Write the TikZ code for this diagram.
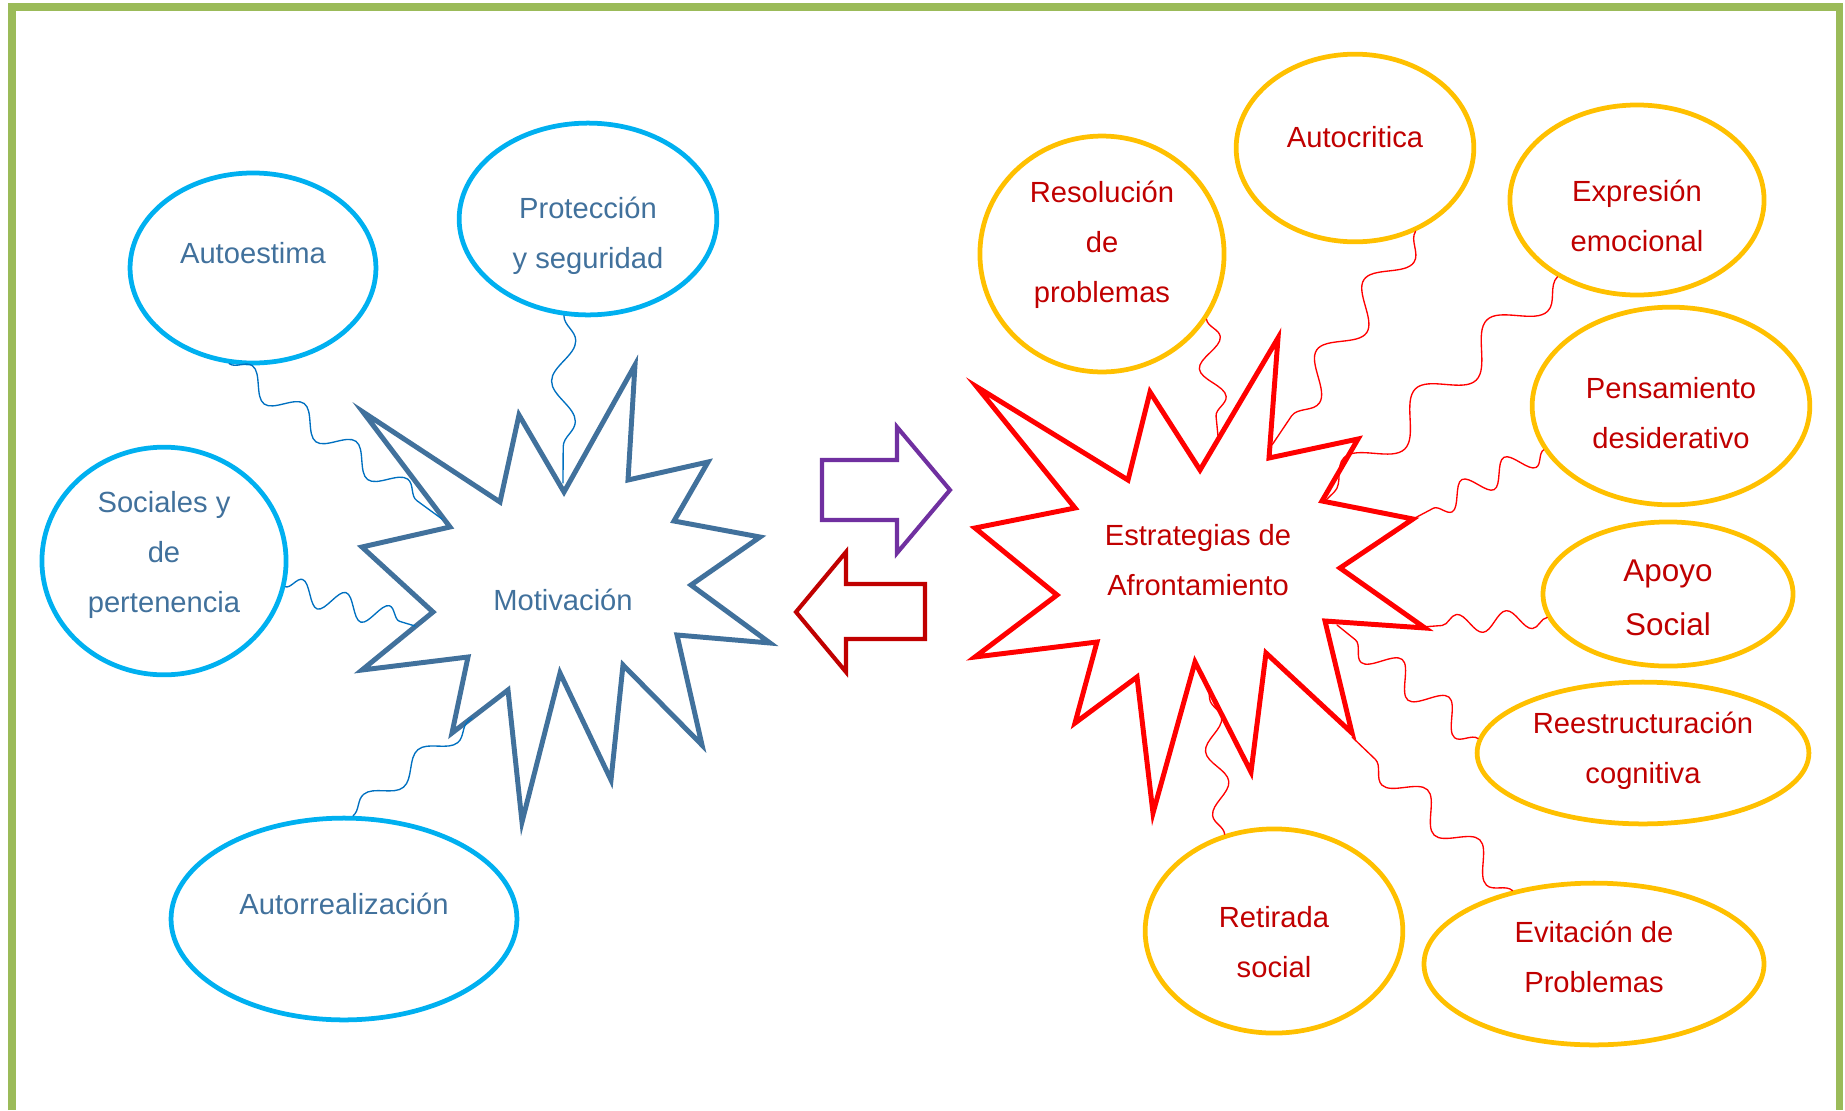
\documentclass[tikz,border=0pt]{standalone}
\usepackage{fontspec}
\setmainfont{Liberation Sans}
\usetikzlibrary{shapes.geometric}
\usetikzlibrary{decorations.pathmorphing}

\definecolor{framegreen}{HTML}{9BBB59}
\definecolor{skyring}{HTML}{00B0F0}
\definecolor{steel}{HTML}{41719C}
\definecolor{wireblue}{HTML}{0070C0}
\definecolor{goldring}{HTML}{FFC000}
\definecolor{darkred}{HTML}{C00000}
\definecolor{brightred}{HTML}{FF0000}
\definecolor{arrowviolet}{HTML}{7030A0}

\tikzset{
  bubble/.style={ellipse, line width=2.3pt, inner sep=0pt},
  need/.style={bubble, draw=skyring},
  coping/.style={bubble, draw=goldring},
  hubtext/.style={align=center, font=\fontsize{14.1}{24.2}\selectfont},
  needtext/.style={hubtext, text=steel},
  copingtext/.style={hubtext, text=darkred},
  wire/.style={decorate, line width=0.65pt},
}

\begin{document}
\begin{tikzpicture}[line cap=round,line join=round,x=0.017cm,y=-0.017cm]
\useasboundingbox (0,0) rectangle (1845,1110);
\draw [framegreen, line width=3.4pt, line cap=butt, line join=miter] (12,1110)--(12,7)--(1839,7)--(1839,1110);

% needs side
\draw [steel, line width=2.4pt, line join=miter] (363,412)--(500,502)--(519,415)--(564,492)--(635,365)--(628,480)--(708,462)--(674,521)--(760,537)--(691,585)--(770,643)--(677,635)--(702,745)--(623,665)--(611,780)--(560,673)--(522,822)--(508,690)--(452,733)--(468,657)--(362,670)--(433,612)--(362,547)--(450,527)--cycle;
\node [needtext] (motivacion) at (563,600) {Motivación};

\node [need, minimum width=4.18cm, minimum height=3.23cm, label={[needtext, yshift=7.3pt]center:Autoestima}] (autoestima) at (253,268) {};
\node [need, minimum width=4.38cm, minimum height=3.26cm, label={[needtext, yshift=-8.2pt]center:Protección\\y seguridad}] (proteccion) at (588,219) {};
\node [need, minimum width=4.15cm, minimum height=3.87cm, label={[needtext, yshift=2.9pt]center:Sociales y\\de\\pertenencia}] (sociales) at (164,561) {};
\node [need, minimum width=5.88cm, minimum height=3.43cm, label={[needtext, yshift=7.3pt]center:Autorrealización}] (autorreal) at (344,919) {};

\coordinate (mot-ae) at (442,519);
\coordinate (mot-so) at (415,626);
\coordinate (mot-pr) at (563,483);
\coordinate (mot-ar) at (472,718);

\draw [wire, wireblue, decoration={snake, amplitude=5.8pt, segment length=31pt}] (autoestima.256) -- (mot-ae);
\draw [wire, wireblue, decoration={snake, amplitude=5.8pt, segment length=22pt}] (sociales.348) -- (mot-so);
\draw [wire, wireblue, decoration={snake, amplitude=5.8pt, segment length=39pt}] (proteccion.256) -- (mot-pr);
\draw [wire, wireblue, decoration={snake, amplitude=4.8pt, segment length=34pt}] (autorreal.85) -- (mot-ar);

% arrows between both
\draw [arrowviolet, line width=2pt, line join=miter] (822,460)--(897,460)--(897,427)--(950,490)--(897,553)--(897,520)--(822,520)--cycle;
\draw [darkred, line width=2pt, line join=miter] (925,584)--(846,584)--(846,552)--(796,612)--(846,672)--(846,639)--(925,639)--cycle;

% coping side
\draw [brightred, line width=2.4pt, line join=miter] (977,387)--(1128,480)--(1150,392)--(1200,470)--(1278,338)--(1269,458)--(1358,439)--(1322,501)--(1413,519)--(1340,568)--(1425,628)--(1325,621)--(1352,733)--(1266,653)--(1251,772)--(1195,662)--(1153,813)--(1137,677)--(1075,723)--(1097,642)--(975,657)--(1057,595)--(975,528)--(1075,508)--cycle;
\node [copingtext] (estrategias) at (1198,560) {Estrategias de\\Afrontamiento};

\node [coping, minimum width=4.15cm, minimum height=4.01cm, label={[copingtext, yshift=4.4pt]center:Resolución\\de\\problemas}] (resolucion) at (1102,254) {};
\node [coping, minimum width=4.04cm, minimum height=3.19cm, label={[copingtext, yshift=5.3pt]center:Autocritica}] (autocritica) at (1355,148) {};
\node [coping, minimum width=4.32cm, minimum height=3.23cm, label={[copingtext, yshift=-7.7pt]center:Expresión\\emocional}] (expresion) at (1637,200) {};
\node [coping, minimum width=4.72cm, minimum height=3.36cm, label={[copingtext, yshift=-3.4pt]center:Pensamiento\\desiderativo}] (pensamiento) at (1671,406) {};
\node [coping, minimum width=4.25cm, minimum height=2.45cm, label={[copingtext, yshift=-1.9pt, font=\fontsize{15.2}{26}\selectfont]center:Apoyo\\Social}] (apoyo) at (1668,594) {};
\node [coping, minimum width=5.64cm, minimum height=2.41cm, label={[copingtext, yshift=1pt]center:Reestructuración\\cognitiva}] (reestruct) at (1643,753) {};
\node [coping, minimum width=5.78cm, minimum height=2.75cm, label={[copingtext, yshift=3.4pt]center:Evitación de\\Problemas}] (evitacion) at (1594,964) {};
\node [coping, minimum width=4.38cm, minimum height=3.47cm, label={[copingtext, yshift=-5.3pt]center:Retirada\\social}] (retirada) at (1274,931) {};

\coordinate (est-re) at (1218,436);
\coordinate (est-ac) at (1272,445);
\coordinate (est-ex) at (1326,500);
\coordinate (est-pe) at (1413,519);
\coordinate (est-ap) at (1422,627);
\coordinate (est-rc) at (1337,625);
\coordinate (est-ev) at (1352,737);
\coordinate (est-rt) at (1209,693);

\draw [wire, brightred, decoration={snake, amplitude=5.8pt, segment length=29pt}] (resolucion.328) -- (est-re);
\draw [wire, brightred, decoration={snake, amplitude=7.7pt, segment length=41pt}] (autocritica.306) -- (est-ac);
\draw [wire, brightred, decoration={snake, amplitude=8.7pt, segment length=48pt}] (expresion.224) -- (est-ex);
\draw [wire, brightred, decoration={snake, amplitude=5.8pt, segment length=23pt}] (pensamiento.199) -- (est-pe);
\draw [wire, brightred, decoration={snake, amplitude=4.8pt, segment length=24pt}] (apoyo.191) -- (est-ap);
\draw [wire, brightred, decoration={snake, amplitude=6.8pt, segment length=29pt}] (reestruct.175) -- (est-rc);
\draw [wire, brightred, decoration={snake, amplitude=6.8pt, segment length=35pt}] (evitacion.138) -- (est-ev);
\draw [wire, brightred, decoration={snake, amplitude=4.8pt, segment length=31pt}] (retirada.117) -- (est-rt);
\end{tikzpicture}
\end{document}
